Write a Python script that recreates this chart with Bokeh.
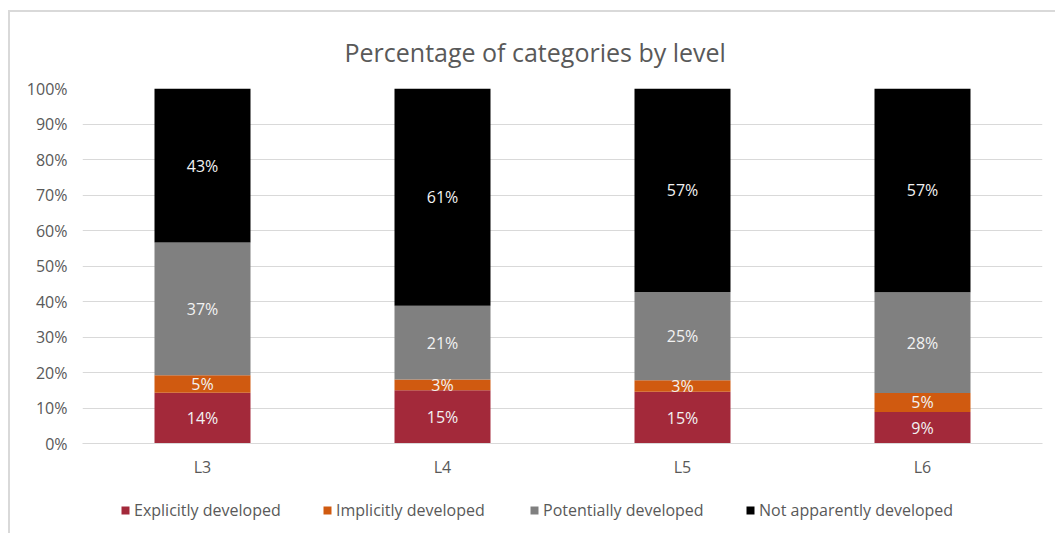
from bokeh.plotting import figure
from bokeh.layouts import column
from bokeh.models import (ColumnDataSource, FactorRange, Range1d, LabelSet,
                          Legend, LegendItem, PrintfTickFormatter, FixedTicker)
from bokeh.core.properties import value
from bokeh.embed import file_html
from bokeh.resources import INLINE

# ---- data ----
levels = ["L3", "L4", "L5", "L6"]
series_names = ["Explicitly developed", "Implicitly developed",
                "Potentially developed", "Not apparently developed"]
explicit = [14.3, 15.0, 14.6, 8.9]
implicit = [4.9, 3.0, 3.2, 5.3]
potential = [37.4, 20.8, 24.9, 28.4]
not_apparent = [43.4, 61.2, 57.3, 57.4]
y_ticks = [0, 10, 20, 30, 40, 50, 60, 70, 80, 90, 100]
title_text = "Percentage of categories by level"

colors = ["#A3293A", "#D05A10", "#808080", "#000000"]
keys = ["explicit", "implicit", "potential", "not_apparent"]
FONT = "Open Sans"
TXT = "#595959"

source = ColumnDataSource(dict(level=levels, explicit=explicit, implicit=implicit,
                               potential=potential, not_apparent=not_apparent))

# ---- main chart ----
p = figure(x_range=FactorRange(*levels, range_padding=0), y_range=Range1d(0, 100),
           width=1045, height=478, output_backend="svg", toolbar_location=None,
           min_border_left=72, min_border_right=13, min_border_top=76, min_border_bottom=47,
           title=title_text)
p.outline_line_color = None
p.background_fill_color = "white"
p.border_fill_color = "white"

p.title.align = "left"
p.title.offset = 262
p.title.text_font = FONT
p.title.text_font_size = "25px"
p.title.text_font_style = "normal"
p.title.text_color = TXT
p.title.standoff = 40

renderers = p.vbar_stack(keys, x="level", width=0.4, color=colors, line_color=None,
                         source=source)

# segment labels
lx, ly, lt = [], [], []
series_vals = [explicit, implicit, potential, not_apparent]
for i, lev in enumerate(levels):
    cum = 0.0
    for vals in series_vals:
        v = vals[i]
        lx.append(lev)
        ly.append(cum + v / 2)
        lt.append(f"{round(v)}%")
        cum += v
lab_src = ColumnDataSource(dict(x=lx, y=ly, t=lt))
p.add_layout(LabelSet(x="x", y="y", text="t", source=lab_src, text_align="center",
                      text_baseline="middle", text_color="#f2f2f2",
                      text_font=value(FONT), text_font_size="16px"))

p.xgrid.grid_line_color = None
p.ygrid.grid_line_color = "#d9d9d9"
p.ygrid.grid_line_width = 1
p.yaxis.ticker = FixedTicker(ticks=y_ticks)
p.yaxis.formatter = PrintfTickFormatter(format="%d%%")
p.yaxis.axis_line_color = None
p.yaxis.major_tick_line_color = None
p.yaxis.minor_tick_line_color = None
p.yaxis.major_tick_out = 0
p.yaxis.major_label_standoff = 15
p.yaxis.major_label_text_font = FONT
p.yaxis.major_label_text_font_size = "16px"
p.yaxis.major_label_text_color = TXT

p.xaxis.axis_line_color = "#d9d9d9"
p.xaxis.major_tick_line_color = None
p.xaxis.minor_tick_line_color = None
p.xaxis.major_tick_out = 0
p.xaxis.major_label_standoff = 12
p.xaxis.major_label_text_font = FONT
p.xaxis.major_label_text_font_size = "16px"
p.xaxis.major_label_text_color = TXT

# ---- legend strip (bars drawn out of view, used only for legend swatches) ----
p2 = figure(x_range=FactorRange(*levels, range_padding=0), y_range=Range1d(200, 300),
            width=1045, height=43, output_backend="svg", toolbar_location=None,
            min_border=0, x_axis_location=None, y_axis_location=None)
p2.outline_line_color = None
p2.grid.visible = False
p2.border_fill_color = "white"
leg_renderers = p2.vbar_stack(keys, x="level", width=0.4, color=colors, line_color=None,
                              source=source)
leg_x = [38, 240, 447, 663]
for name, r, x in zip(series_names, leg_renderers, leg_x):
    lg = Legend(items=[LegendItem(label=name, renderers=[r])], location=(x, 12),
                orientation="horizontal", padding=0, margin=0, spacing=0,
                glyph_width=10, glyph_height=10, label_standoff=4, label_height=16,
                label_text_font=FONT, label_text_font_size="16px",
                label_text_color=TXT, border_line_color=None,
                background_fill_alpha=0)
    p2.add_layout(lg, "center")

layout = column(p, p2, spacing=0, margin=(10, 0, 0, 8))
layout.styles = {"border-left": "2px solid #d9d9d9", "border-top": "2px solid #d9d9d9"}

open("out.html", "w").write(file_html(layout, INLINE))
